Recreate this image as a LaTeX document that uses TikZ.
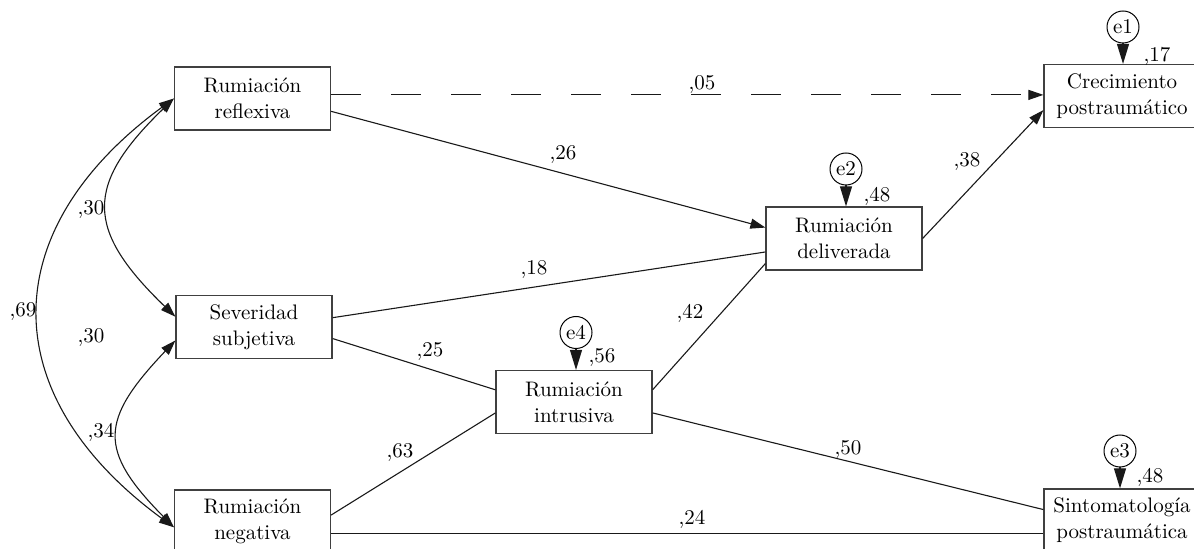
\documentclass[tikz,border=0pt]{standalone}
\usepackage{fontspec}
\usetikzlibrary{arrows.meta,calc}
\begin{document}
\begin{tikzpicture}[x=0.5pt,y=-0.5pt,
  txt/.style={font=\fontsize{10.5}{13}\selectfont},
  box/.style={txt,draw=black!75,line width=0.6pt,minimum width=78pt,minimum height=31.5pt,inner sep=0pt,align=center},
  err/.style={txt,draw,line width=0.5pt,circle,minimum size=16pt,inner sep=0pt},
  lab/.style={txt,anchor=base,inner sep=0pt},
  conn/.style={line width=0.55pt,black!90},
  arr/.style={conn,-{Triangle[length=7.5pt,width=5pt]}},
  dbl/.style={conn,{Triangle[length=7.5pt,width=5pt]}-{Triangle[length=7.5pt,width=5pt]}},
  earr/.style={conn,-{Triangle[length=10pt,width=6pt]}},
  dsh/.style={arr,dash pattern=on 15pt off 15pt}
]
\useasboundingbox (0,0) rectangle (1194,549);

% boxes
\node[box] (refl) at (252.5,98.5) {Rumiación\\reflexiva};
\node[box] (sev) at (254,327) {Severidad\\subjetiva};
\node[box] (neg) at (252.5,521.5) {Rumiación\\negativa};
\node[box] (crec) at (1122,96) {Crecimiento\\postraumático};
\node[box] (deli) at (844,238.5) {Rumiación\\deliverada};
\node[box] (intr) at (574,402) {Rumiación\\intrusiva};
\node[box] (sint) at (1122,520.5) {Sintomatología\\postraumática};

% error terms
\node[err] (e1) at (1123,27) {e1};
\node[err] (e2) at (846,169) {e2};
\node[err] (e4) at (576,332.5) {e4};
\node[err] (e3) at (1120,451) {e3};
\draw[earr] (e1.south) -- (e1.south |- crec.north);
\draw[earr] (e2.south) -- (e2.south |- deli.north);
\draw[earr] (e4.south) -- (e4.south |- intr.north);
\draw[earr] (e3.south) -- (e3.south |- sint.north);

% connectors
\coordinate (d0) at ($(refl.north east)!0.444!(refl.south east)$);
\draw[dsh] (d0) -- (d0 -| crec.west);
\draw[arr] ($(refl.north east)!0.70!(refl.south east)$) -- ($(deli.north west)!0.33!(deli.south west)$);
\draw[arr] (deli.east) -- ($(crec.north west)!0.72!(crec.south west)$);
\draw[conn] ($(sev.north east)!0.355!(sev.south east)$) -- ($(deli.north west)!0.71!(deli.south west)$);
\draw[conn] ($(sev.north east)!0.68!(sev.south east)$) -- ($(intr.north west)!0.31!(intr.south west)$);
\draw[conn] ($(neg.north east)!0.40!(neg.south east)$) -- ($(intr.north west)!0.67!(intr.south west)$);
\coordinate (n0) at ($(neg.north east)!0.68!(neg.south east)$);
\draw[conn] (n0) -- (n0 -| sint.west);
\draw[conn] ($(intr.north east)!0.67!(intr.south east)$) -- ($(sint.north west)!0.33!(sint.south west)$);
\draw[conn] ($(intr.north east)!0.31!(intr.south east)$) -- ($(deli.north west)!0.89!(deli.south west)$);

% covariances
\draw[dbl] (refl.west) .. controls +(-90,87) and +(-90,-87) .. ($(sev.north west)!0.34!(sev.south west)$);
\draw[dbl] (refl.west) .. controls +(-180,132) and +(-180,-132) .. ($(neg.north west)!0.59!(neg.south west)$);
\draw[dbl] ($(sev.north west)!0.71!(sev.south west)$) .. controls +(-76,80) and +(-76,-77) .. ($(neg.north west)!0.59!(neg.south west)$);

% labels
\node[lab] (l17) at (1157,62) {,17};
\node[lab] (l48a) at (877,202) {,48};
\node[lab] (l56) at (602,363) {,56};
\node[lab] (l48b) at (1150,483) {,48};
\node[lab] (l05) at (702,90) {,05};
\node[lab] (l26) at (563,160) {,26};
\node[lab] (l38) at (967,167) {,38};
\node[lab] (l18) at (534,275) {,18};
\node[lab] (l42) at (690,319) {,42};
\node[lab] (l25) at (430,357) {,25};
\node[lab] (l63) at (400,458) {,63};
\node[lab] (l50) at (848,455) {,50};
\node[lab] (l24) at (692,525) {,24};
\node[lab] (l30a) at (91,215) {,30};
\node[lab] (l69) at (23,317) {,69};
\node[lab] (l30b) at (91,343) {,30};
\node[lab] (l34) at (101,438) {,34};
\end{tikzpicture}
\end{document}
